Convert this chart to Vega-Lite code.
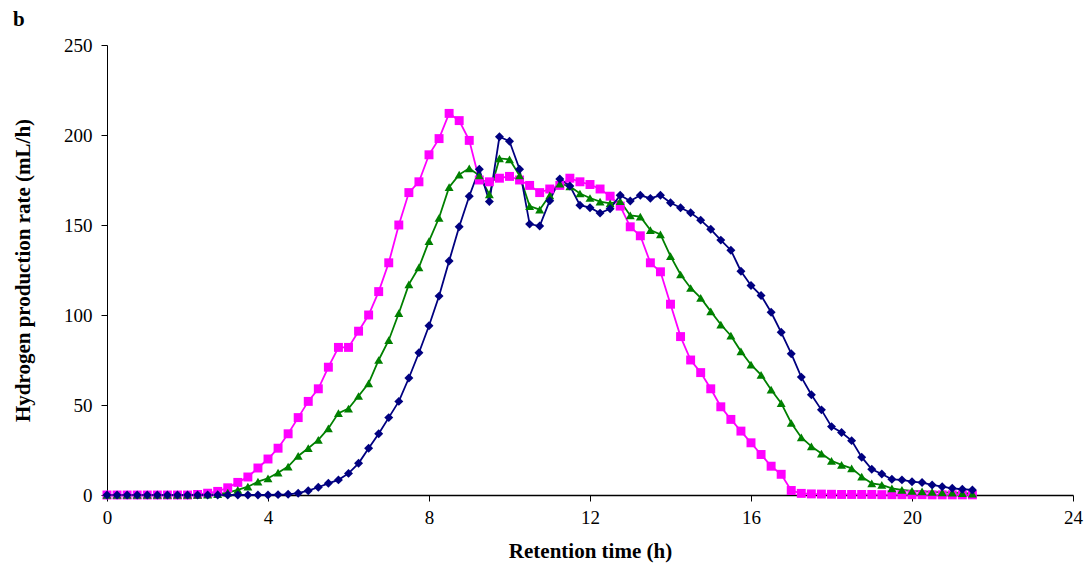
{
"$schema": "https://vega.github.io/schema/vega-lite/v6.json",
"width": 966, "height": 450,
"autosize": {"type": "none"},
"padding": {"left": 107, "top": 45, "right": 18, "bottom": 74},
"background": "white",
"config": {"view": {"stroke": null}, "font": "Liberation Serif",
  "axis": {"grid": false, "domainColor": "black", "tickColor": "black", "labelColor": "black", "titleColor": "black", "labelFont": "Liberation Serif", "titleFont": "Liberation Serif", "labelFontSize": 19, "titleFontSize": 21, "titleFontWeight": "bold", "tickSize": 6}},
"title": {"text": "b", "anchor": "start", "frame": "group", "dx": -94, "dy": -2, "fontSize": 21, "fontWeight": "bold", "font": "Liberation Serif", "color": "black"},
"data": {"values": [
{"s":"M","t":0,"v":0},{"s":"M","t":0.25,"v":0},{"s":"M","t":0.5,"v":0},{"s":"M","t":0.75,"v":0},{"s":"M","t":1,"v":0},{"s":"M","t":1.25,"v":0},{"s":"M","t":1.5,"v":0},{"s":"M","t":1.75,"v":0},{"s":"M","t":2,"v":0},{"s":"M","t":2.25,"v":0.3},{"s":"M","t":2.5,"v":1},{"s":"M","t":2.75,"v":2},{"s":"M","t":3,"v":4},{"s":"M","t":3.25,"v":7},{"s":"M","t":3.5,"v":10},{"s":"M","t":3.75,"v":15},{"s":"M","t":4,"v":20},{"s":"M","t":4.25,"v":26},{"s":"M","t":4.5,"v":34},{"s":"M","t":4.75,"v":43},{"s":"M","t":5,"v":52},{"s":"M","t":5.25,"v":59},{"s":"M","t":5.5,"v":71},{"s":"M","t":5.75,"v":82},{"s":"M","t":6,"v":82},{"s":"M","t":6.25,"v":91},{"s":"M","t":6.5,"v":100},{"s":"M","t":6.75,"v":113},{"s":"M","t":7,"v":129},{"s":"M","t":7.25,"v":150},{"s":"M","t":7.5,"v":168},{"s":"M","t":7.75,"v":174},{"s":"M","t":8,"v":189},{"s":"M","t":8.25,"v":198},{"s":"M","t":8.5,"v":212},{"s":"M","t":8.75,"v":208},{"s":"M","t":9,"v":197},{"s":"M","t":9.25,"v":175},{"s":"M","t":9.5,"v":174},{"s":"M","t":9.75,"v":176},{"s":"M","t":10,"v":177},{"s":"M","t":10.25,"v":175},{"s":"M","t":10.5,"v":172},{"s":"M","t":10.75,"v":168},{"s":"M","t":11,"v":170},{"s":"M","t":11.25,"v":172},{"s":"M","t":11.5,"v":176},{"s":"M","t":11.75,"v":174},{"s":"M","t":12,"v":172.5},{"s":"M","t":12.25,"v":170},{"s":"M","t":12.5,"v":166},{"s":"M","t":12.75,"v":160.5},{"s":"M","t":13,"v":149},{"s":"M","t":13.25,"v":144},{"s":"M","t":13.5,"v":129},{"s":"M","t":13.75,"v":124},{"s":"M","t":14,"v":106},{"s":"M","t":14.25,"v":88},{"s":"M","t":14.5,"v":75},{"s":"M","t":14.75,"v":68},{"s":"M","t":15,"v":59},{"s":"M","t":15.25,"v":49},{"s":"M","t":15.5,"v":42},{"s":"M","t":15.75,"v":35.5},{"s":"M","t":16,"v":29},{"s":"M","t":16.25,"v":22.5},{"s":"M","t":16.5,"v":16},{"s":"M","t":16.75,"v":11.5},{"s":"M","t":17,"v":2.5},{"s":"M","t":17.25,"v":0.9},{"s":"M","t":17.5,"v":0.6},{"s":"M","t":17.75,"v":0.5},{"s":"M","t":18,"v":0.4},{"s":"M","t":18.25,"v":0.3},{"s":"M","t":18.5,"v":0.3},{"s":"M","t":18.75,"v":0.3},{"s":"M","t":19,"v":0.3},{"s":"M","t":19.25,"v":0.2},{"s":"M","t":19.5,"v":0.2},{"s":"M","t":19.75,"v":0.2},{"s":"M","t":20,"v":0.2},{"s":"M","t":20.25,"v":0.2},{"s":"M","t":20.5,"v":0.1},{"s":"M","t":20.75,"v":0.1},{"s":"M","t":21,"v":0.1},{"s":"M","t":21.25,"v":0.1},{"s":"M","t":21.5,"v":0.1},
{"s":"G","t":0,"v":0},{"s":"G","t":0.25,"v":0},{"s":"G","t":0.5,"v":0},{"s":"G","t":0.75,"v":0},{"s":"G","t":1,"v":0},{"s":"G","t":1.25,"v":0},{"s":"G","t":1.5,"v":0},{"s":"G","t":1.75,"v":0},{"s":"G","t":2,"v":0},{"s":"G","t":2.25,"v":0},{"s":"G","t":2.5,"v":0.2},{"s":"G","t":2.75,"v":0.5},{"s":"G","t":3,"v":1.3},{"s":"G","t":3.25,"v":2.8},{"s":"G","t":3.5,"v":4.6},{"s":"G","t":3.75,"v":7.4},{"s":"G","t":4,"v":9.3},{"s":"G","t":4.25,"v":12.4},{"s":"G","t":4.5,"v":15.8},{"s":"G","t":4.75,"v":21.7},{"s":"G","t":5,"v":26},{"s":"G","t":5.25,"v":30.6},{"s":"G","t":5.5,"v":37},{"s":"G","t":5.75,"v":45.5},{"s":"G","t":6,"v":48},{"s":"G","t":6.25,"v":55},{"s":"G","t":6.5,"v":62},{"s":"G","t":6.75,"v":75},{"s":"G","t":7,"v":86},{"s":"G","t":7.25,"v":101},{"s":"G","t":7.5,"v":117},{"s":"G","t":7.75,"v":126.5},{"s":"G","t":8,"v":141},{"s":"G","t":8.25,"v":154},{"s":"G","t":8.5,"v":171},{"s":"G","t":8.75,"v":178},{"s":"G","t":9,"v":181.5},{"s":"G","t":9.25,"v":177.5},{"s":"G","t":9.5,"v":167},{"s":"G","t":9.75,"v":187},{"s":"G","t":10,"v":186.5},{"s":"G","t":10.25,"v":177.5},{"s":"G","t":10.5,"v":160.5},{"s":"G","t":10.75,"v":158.5},{"s":"G","t":11,"v":166.5},{"s":"G","t":11.25,"v":173},{"s":"G","t":11.5,"v":171.5},{"s":"G","t":11.75,"v":167.5},{"s":"G","t":12,"v":165},{"s":"G","t":12.25,"v":163},{"s":"G","t":12.5,"v":162},{"s":"G","t":12.75,"v":163.3},{"s":"G","t":13,"v":155.3},{"s":"G","t":13.25,"v":154.6},{"s":"G","t":13.5,"v":147.2},{"s":"G","t":13.75,"v":144.8},{"s":"G","t":14,"v":132.7},{"s":"G","t":14.25,"v":122.5},{"s":"G","t":14.5,"v":115},{"s":"G","t":14.75,"v":109.5},{"s":"G","t":15,"v":102},{"s":"G","t":15.25,"v":94.7},{"s":"G","t":15.5,"v":88.5},{"s":"G","t":15.75,"v":79.8},{"s":"G","t":16,"v":72.4},{"s":"G","t":16.25,"v":66.8},{"s":"G","t":16.5,"v":58.5},{"s":"G","t":16.75,"v":51},{"s":"G","t":17,"v":40},{"s":"G","t":17.25,"v":32},{"s":"G","t":17.5,"v":27},{"s":"G","t":17.75,"v":23},{"s":"G","t":18,"v":19},{"s":"G","t":18.25,"v":16.7},{"s":"G","t":18.5,"v":14.8},{"s":"G","t":18.75,"v":10.2},{"s":"G","t":19,"v":6.5},{"s":"G","t":19.25,"v":5.6},{"s":"G","t":19.5,"v":3.7},{"s":"G","t":19.75,"v":2.8},{"s":"G","t":20,"v":2.3},{"s":"G","t":20.25,"v":2},{"s":"G","t":20.5,"v":1.7},{"s":"G","t":20.75,"v":1.5},{"s":"G","t":21,"v":1.3},{"s":"G","t":21.25,"v":1.1},{"s":"G","t":21.5,"v":0.8},
{"s":"N","t":0,"v":0},{"s":"N","t":0.25,"v":0},{"s":"N","t":0.5,"v":0},{"s":"N","t":0.75,"v":0},{"s":"N","t":1,"v":0},{"s":"N","t":1.25,"v":0},{"s":"N","t":1.5,"v":0},{"s":"N","t":1.75,"v":0},{"s":"N","t":2,"v":0},{"s":"N","t":2.25,"v":0},{"s":"N","t":2.5,"v":0},{"s":"N","t":2.75,"v":0},{"s":"N","t":3,"v":0},{"s":"N","t":3.25,"v":0},{"s":"N","t":3.5,"v":0},{"s":"N","t":3.75,"v":0},{"s":"N","t":4,"v":0},{"s":"N","t":4.25,"v":0.2},{"s":"N","t":4.5,"v":0.4},{"s":"N","t":4.75,"v":1},{"s":"N","t":5,"v":2.4},{"s":"N","t":5.25,"v":4.3},{"s":"N","t":5.5,"v":6.5},{"s":"N","t":5.75,"v":8.4},{"s":"N","t":6,"v":12},{"s":"N","t":6.25,"v":17.6},{"s":"N","t":6.5,"v":26},{"s":"N","t":6.75,"v":34},{"s":"N","t":7,"v":43},{"s":"N","t":7.25,"v":52},{"s":"N","t":7.5,"v":65},{"s":"N","t":7.75,"v":79},{"s":"N","t":8,"v":94},{"s":"N","t":8.25,"v":110.5},{"s":"N","t":8.5,"v":130},{"s":"N","t":8.75,"v":149},{"s":"N","t":9,"v":166},{"s":"N","t":9.25,"v":181},{"s":"N","t":9.5,"v":163},{"s":"N","t":9.75,"v":199},{"s":"N","t":10,"v":196.5},{"s":"N","t":10.25,"v":181},{"s":"N","t":10.5,"v":150.5},{"s":"N","t":10.75,"v":149.4},{"s":"N","t":11,"v":163.5},{"s":"N","t":11.25,"v":175.6},{"s":"N","t":11.5,"v":171.7},{"s":"N","t":11.75,"v":161},{"s":"N","t":12,"v":159.6},{"s":"N","t":12.25,"v":156.6},{"s":"N","t":12.5,"v":159},{"s":"N","t":12.75,"v":166.5},{"s":"N","t":13,"v":163.3},{"s":"N","t":13.25,"v":166.5},{"s":"N","t":13.5,"v":164.8},{"s":"N","t":13.75,"v":166.5},{"s":"N","t":14,"v":162.4},{"s":"N","t":14.25,"v":159.6},{"s":"N","t":14.5,"v":156.8},{"s":"N","t":14.75,"v":152.7},{"s":"N","t":15,"v":147.6},{"s":"N","t":15.25,"v":141.6},{"s":"N","t":15.5,"v":136},{"s":"N","t":15.75,"v":124.3},{"s":"N","t":16,"v":116.4},{"s":"N","t":16.25,"v":110.8},{"s":"N","t":16.5,"v":101.5},{"s":"N","t":16.75,"v":90.4},{"s":"N","t":17,"v":78.5},{"s":"N","t":17.25,"v":65.5},{"s":"N","t":17.5,"v":55.7},{"s":"N","t":17.75,"v":47.3},{"s":"N","t":18,"v":38},{"s":"N","t":18.25,"v":34.7},{"s":"N","t":18.5,"v":30.2},{"s":"N","t":18.75,"v":21},{"s":"N","t":19,"v":14.3},{"s":"N","t":19.25,"v":11.7},{"s":"N","t":19.5,"v":8.7},{"s":"N","t":19.75,"v":8.4},{"s":"N","t":20,"v":7.4},{"s":"N","t":20.25,"v":6.9},{"s":"N","t":20.5,"v":5.6},{"s":"N","t":20.75,"v":4.6},{"s":"N","t":21,"v":3.7},{"s":"N","t":21.25,"v":3.2},{"s":"N","t":21.5,"v":2.8}
]},
"encoding": {
  "x": {"field": "t", "type": "quantitative", "scale": {"domain": [0, 24], "nice": false, "zero": false},
        "axis": {"values": [0,4,8,12,16,20,24], "title": "Retention time (h)", "labelPadding": 7, "titlePadding": 13, "domainWidth": 1.5, "labelFlush": false}},
  "y": {"field": "v", "type": "quantitative", "scale": {"domain": [0, 250], "nice": false},
        "axis": {"values": [0,50,100,150,200,250], "title": "Hydrogen production rate (mL/h)", "labelPadding": 9, "titlePadding": 30, "domainWidth": 1, "labelFlush": false}},
  "color": {"field": "s", "type": "nominal", "scale": {"domain": ["M","G","N"], "range": ["#FF00FF","#008000","#000080"]}, "legend": null}
},
"layer": [
  {"mark": {"type": "line", "strokeWidth": 1.8}, "encoding": {"detail": {"field": "s"}}},
  {"mark": {"type": "point", "filled": true, "opacity": 1, "size": 80},
   "encoding": {"shape": {"field": "s", "type": "nominal", "scale": {"domain": ["M","G","N"], "range": ["square","triangle-up","diamond"]}, "legend": null}}}
]
}
